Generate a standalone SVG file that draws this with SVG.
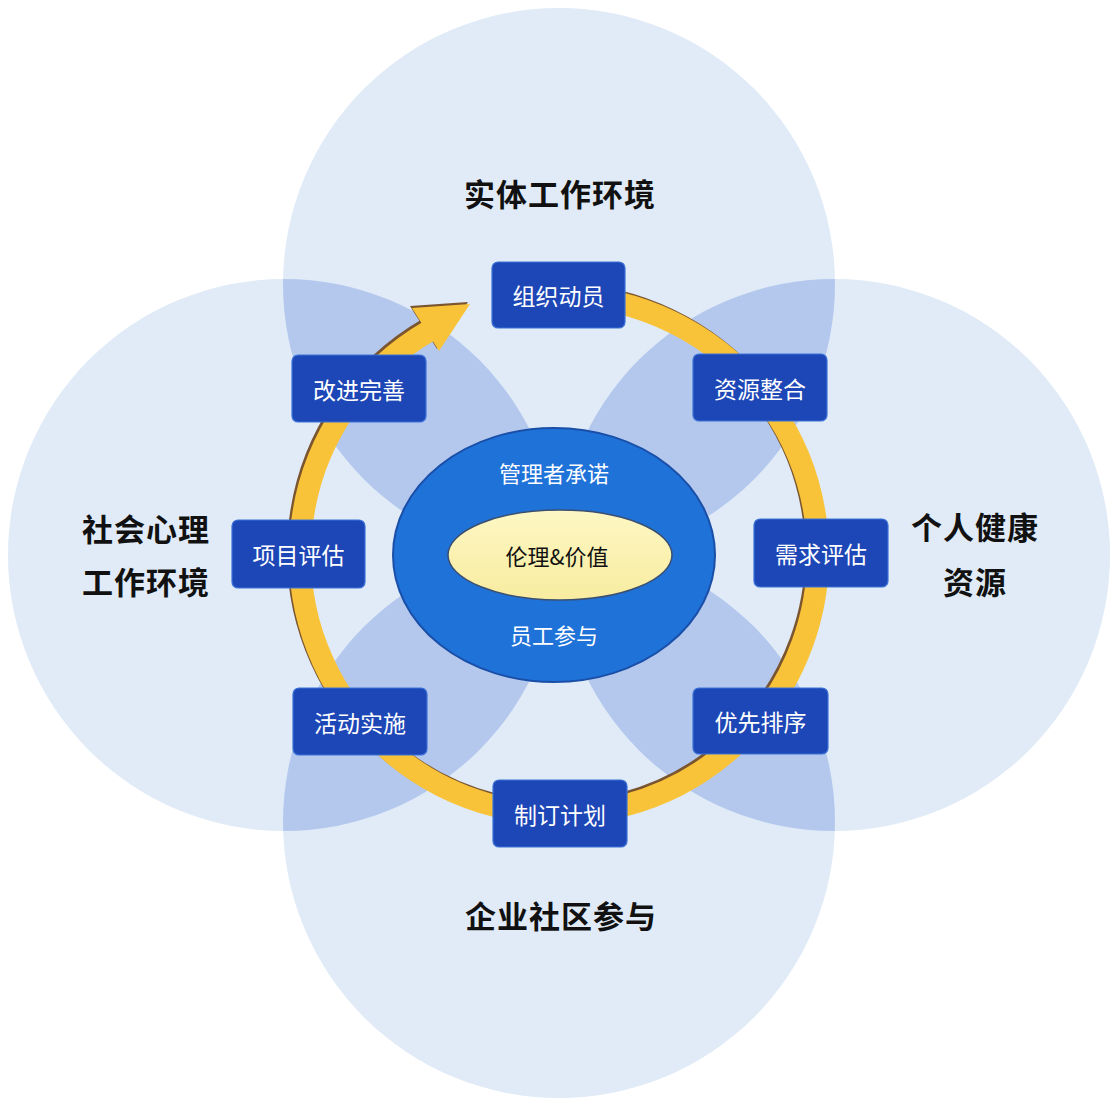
<svg xmlns="http://www.w3.org/2000/svg" width="1116" height="1103" viewBox="0 0 1116 1103">
<style>
.bg{fill:#e0ebf7}
.lens{fill:#b4c8ee}
.box rect{fill:#1d46b6;stroke:#3d72d6;stroke-width:1.2}
.box text{fill:#ffffff;font-family:"Noto Sans CJK SC","Noto Sans",sans-serif;font-size:23px;text-anchor:middle;dominant-baseline:central}
.cat{fill:#111111;font-family:"Noto Sans CJK SC","Noto Sans",sans-serif;font-size:31px;font-weight:bold;text-anchor:middle;dominant-baseline:central;letter-spacing:1px}
.ctr{font-family:"Noto Sans CJK SC","Noto Sans",sans-serif;font-size:22px;text-anchor:middle;dominant-baseline:central}
</style>
<defs>
<clipPath id="clipTop"><circle cx="559" cy="284" r="276"/></clipPath>
<clipPath id="clipBottom"><circle cx="559" cy="822" r="276"/></clipPath>
<linearGradient id="yolk" x1="0" y1="0" x2="0" y2="1">
<stop offset="0" stop-color="#fdf7c4"/>
<stop offset="1" stop-color="#f8eca0"/>
</linearGradient>
</defs>
<rect width="1116" height="1103" fill="#ffffff"/>
<g id="areas">
<g id="area-top"><circle class="bg" cx="559" cy="284" r="276"/></g>
<g id="area-bottom"><circle class="bg" cx="559" cy="822" r="276"/></g>
<g id="area-left"><circle class="bg" cx="284" cy="555" r="276"/></g>
<g id="area-right"><circle class="bg" cx="834" cy="555" r="276"/></g>
<g id="lenses">
<circle class="lens" cx="284" cy="555" r="276" clip-path="url(#clipTop)"/>
<circle class="lens" cx="834" cy="555" r="276" clip-path="url(#clipTop)"/>
<circle class="lens" cx="284" cy="555" r="276" clip-path="url(#clipBottom)"/>
<circle class="lens" cx="834" cy="555" r="276" clip-path="url(#clipBottom)"/>
</g>
</g>
<g id="connectors">
<g transform="translate(-2,-2)">
<path d="M559 296 A259 259 0 1 1 429.5 330.7" fill="none" stroke="#7a5530" stroke-width="22"/>
<polygon points="412,308 470,304 439,351" fill="#7a5530"/>
</g>
<path d="M559 296 A259 259 0 1 1 429.5 330.7" fill="none" stroke="#f8c338" stroke-width="22"/>
<polygon points="412,308 470,304 439,351" fill="#f8c338"/>
</g>
<g id="core">
<ellipse cx="554" cy="555" rx="161" ry="127" fill="#1f72d8" stroke="#1a4fa8" stroke-width="2"/>
<ellipse cx="560" cy="555" rx="112" ry="45" fill="url(#yolk)" stroke="#3b4f70" stroke-width="1.5"/>
<text class="ctr" x="554" y="472" fill="#ffffff">管理者承诺</text>
<text class="ctr" x="557" y="555" fill="#111111" font-size="23">伦理&amp;价值</text>
<text class="ctr" x="554" y="634" fill="#ffffff">员工参与</text>
</g>
<g id="step-1" class="box"><rect x="492" y="262" width="133" height="66" rx="6"/><text x="558.5" y="295">组织动员</text></g>
<g id="step-2" class="box"><rect x="693" y="354" width="134" height="67" rx="6"/><text x="760" y="387.5">资源整合</text></g>
<g id="step-3" class="box"><rect x="754" y="519" width="134" height="68" rx="6"/><text x="821" y="553">需求评估</text></g>
<g id="step-4" class="box"><rect x="693" y="688" width="135" height="66" rx="6"/><text x="760.5" y="721">优先排序</text></g>
<g id="step-5" class="box"><rect x="493" y="780" width="134" height="67" rx="6"/><text x="560" y="813.5">制订计划</text></g>
<g id="step-6" class="box"><rect x="293" y="688" width="134" height="67" rx="6"/><text x="360" y="721.5">活动实施</text></g>
<g id="step-7" class="box"><rect x="232" y="520" width="133" height="68" rx="6"/><text x="298.5" y="554">项目评估</text></g>
<g id="step-8" class="box"><rect x="292" y="355" width="134" height="67" rx="6"/><text x="359" y="388.5">改进完善</text></g>
<g id="labels">
<text class="cat" x="560" y="192">实体工作环境</text>
<text class="cat" x="146" y="527">社会心理</text>
<text class="cat" x="146" y="580">工作环境</text>
<text class="cat" x="975" y="525">个人健康</text>
<text class="cat" x="975" y="580">资源</text>
<text class="cat" x="561" y="914">企业社区参与</text>
</g>
</svg>
